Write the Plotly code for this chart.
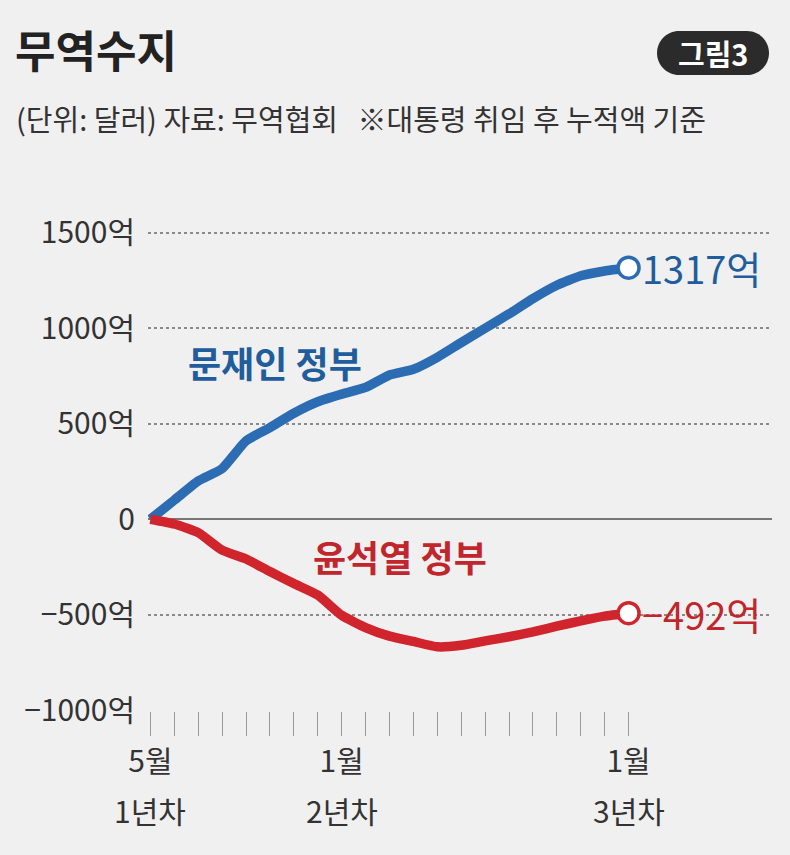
import plotly.graph_objects

# 대통령 취임 후 경과 개월 (0 = 5월 1년차, 20 = 1월 3년차)
months = list(range(21))
# 문재인 정부 누적 무역수지 (억 달러)
moon_values = [0, 100, 200, 265, 410, 480, 555, 615, 655, 690, 755,
               785, 848, 925, 1000, 1075, 1155, 1225, 1275, 1300, 1317]
# 윤석열 정부 누적 무역수지 (억 달러)
yoon_values = [0, -25, -70, -162, -208, -274, -337, -397, -503, -567, -612,
               -640, -668, -660, -637, -615, -590, -560, -532, -507, -492]

# 축 눈금
month_labels = {0: '5월', 8: '1월', 20: '1월'}
year_labels = {0: '1년차', 8: '2년차', 20: '3년차'}
y_ticks = [-1000, -500, 0, 500, 1000, 1500]
y_labels = ['−1000억', '−500억', '0', '500억', '1000억', '1500억']

FONT = 'Noto Sans CJK KR'
BG = '#f0f0f0'
BLUE = '#2b6cb3'
BLUE_TEXT = '#1f5d9c'
RED = '#d0252c'
RED_TEXT = '#c0262c'

# 플롯 영역 (픽셀)
PLOT_LEFT, PLOT_RIGHT, PLOT_TOP, PLOT_BOTTOM = 148, 772, 185, 711


def paper_x(px):
    return (px - PLOT_LEFT) / (PLOT_RIGHT - PLOT_LEFT)


def paper_y(py):
    return (PLOT_BOTTOM - py) / (PLOT_BOTTOM - PLOT_TOP)


figure = plotly.graph_objects.Figure()

# 선 그래프
for values, color in [(moon_values, BLUE), (yoon_values, RED)]:
    figure.add_trace(plotly.graph_objects.Scatter(
        x=months,
        y=values,
        mode='lines',
        line=dict(color=color, width=9.5, shape='spline', smoothing=0.5),
        hoverinfo='skip',
    ))
    # 마지막 지점 동그라미
    figure.add_trace(plotly.graph_objects.Scatter(
        x=[months[-1]],
        y=[values[-1]],
        mode='markers',
        marker=dict(symbol='circle', size=21, color='white',
                    line=dict(color=color, width=3.5)),
        hoverinfo='skip',
    ))

annotations = [
    dict(x=months[-1], y=moon_values[-1], text=f'{moon_values[-1]}억',
         xanchor='left', yanchor='middle', xshift=11, showarrow=False,
         font=dict(size=38, color=BLUE_TEXT, family=FONT)),
    dict(x=months[-1], y=yoon_values[-1], text=f'−{abs(yoon_values[-1])}억',
         xanchor='left', yanchor='middle', xshift=11, showarrow=False,
         font=dict(size=38, color=RED_TEXT, family=FONT)),
    dict(x=5.2, y=825, text='문재인 정부', showarrow=False,
         font=dict(size=36, color=BLUE_TEXT, family=FONT, weight=600)),
    dict(x=10.45, y=-195, text='윤석열 정부', showarrow=False,
         font=dict(size=36, color=RED_TEXT, family=FONT, weight=600)),
    # 부제
    dict(xref='paper', yref='paper', x=paper_x(14), y=paper_y(118),
         xanchor='left', yanchor='middle', showarrow=False,
         text='(단위: 달러) 자료: 무역협회\u00a0\u00a0\u00a0※대통령 취임 후 누적액 기준',
         font=dict(size=29, color='#333333', family=FONT)),
    # 그림3 배지 글자
    dict(xref='paper', yref='paper', x=paper_x(713), y=paper_y(53),
         xanchor='center', yanchor='middle', showarrow=False,
         text='<b>그림3</b>',
         font=dict(size=29, color='white', family=FONT)),
]

# x축 연차 표시 (월 아래 줄)
for m, label in year_labels.items():
    annotations.append(dict(
        x=m, xref='x', yref='paper', y=paper_y(810),
        xanchor='center', yanchor='middle', showarrow=False,
        text=label, font=dict(size=30, color='#333333', family=FONT),
    ))

# 그림3 배지 (둥근 사각형)
k = 12.15
badge_path = (f'M -34,-22 L 34,-22 C {34 + k},-22 56,-{k} 56,0 '
              f'C 56,{k} {34 + k},22 34,22 L -34,22 '
              f'C -{34 + k},22 -56,{k} -56,0 C -56,-{k} -{34 + k},-22 -34,-22 Z')
shapes = [
    dict(type='path', xref='paper', yref='paper',
         xsizemode='pixel', ysizemode='pixel',
         xanchor=paper_x(713), yanchor=paper_y(53),
         path=badge_path, fillcolor='#2b2b2b', line=dict(width=0), layer='below'),
]

figure.update_layout(
    width=790,
    height=855,
    paper_bgcolor=BG,
    plot_bgcolor=BG,
    showlegend=False,
    margin=dict(l=PLOT_LEFT, r=790 - PLOT_RIGHT, t=PLOT_TOP, b=855 - PLOT_BOTTOM),
    font=dict(family=FONT, color='#333333'),
    title=dict(text='<b>무역수지</b>', xref='container', yref='container',
               x=15 / 790, y=1 - 53 / 855, xanchor='left', yanchor='middle',
               font=dict(size=44, color='#222222', family=FONT)),
    xaxis=dict(
        range=[-0.1, 26.0],
        tickvals=months,
        ticktext=[month_labels.get(m, '') for m in months],
        ticks='outside',
        ticklen=24,
        tickwidth=1.2,
        tickcolor='#9a9a9a',
        showgrid=False,
        zeroline=False,
        showline=False,
        tickfont=dict(size=30, color='#333333', family=FONT),
        fixedrange=True,
    ),
    yaxis=dict(
        range=[-1004, 1750],
        tickvals=y_ticks,
        ticktext=y_labels,
        showgrid=True,
        gridcolor='#8a8a8a',
        griddash='dot',
        gridwidth=1.5,
        zeroline=True,
        zerolinecolor='#777777',
        zerolinewidth=2,
        showline=False,
        ticks='',
        ticklabelstandoff=12,
        tickfont=dict(size=30, color='#333333', family=FONT),
        fixedrange=True,
    ),
    annotations=annotations,
    shapes=shapes,
)

# 페이지 여백 제거
figure.write_html(
    'out.html',
    config={'displayModeBar': False},
    post_script="document.body.style.margin='0';document.body.style.background='#f0f0f0';",
)
